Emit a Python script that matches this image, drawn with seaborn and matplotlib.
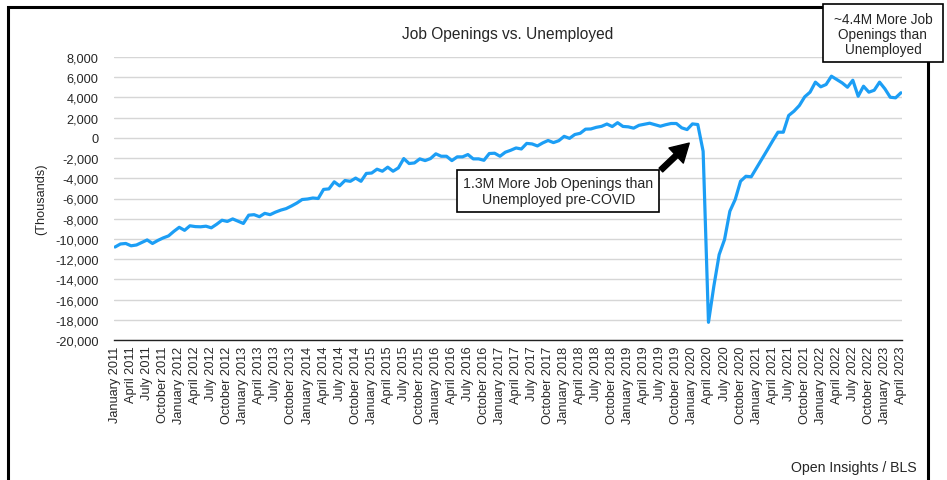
import matplotlib
matplotlib.use("Agg")
import matplotlib.pyplot as plt
from matplotlib.patches import Rectangle
from matplotlib.ticker import FuncFormatter, MultipleLocator
import seaborn as sns
import pandas as pd

# Job openings minus unemployed persons, monthly, thousands (Jan 2011 - Apr 2023)
gap_2011 = [-10800, -10500, -10450, -10680, -10600, -10350, -10100, -10450, -10150, -9900, -9700, -9250]
gap_2012 = [-8850, -9150, -8700, -8780, -8800, -8740, -8900, -8550, -8150, -8270, -8020, -8250]
gap_2013 = [-8470, -7650, -7600, -7800, -7470, -7600, -7350, -7150, -7000, -6740, -6450, -6100]
gap_2014 = [-6050, -5950, -6000, -5100, -5050, -4350, -4750, -4220, -4300, -3980, -4300, -3520]
gap_2015 = [-3480, -3100, -3300, -2900, -3300, -2970, -2050, -2540, -2480, -2080, -2250, -2050]
gap_2016 = [-1580, -1820, -1820, -2250, -1880, -1880, -1650, -2080, -2080, -2220, -1550, -1520]
gap_2017 = [-1820, -1420, -1230, -1000, -1100, -550, -600, -800, -500, -260, -470, -280]
gap_2018 = [150, -50, 330, 450, 860, 880, 1040, 1140, 1370, 1120, 1500, 1130]
gap_2019 = [1090, 960, 1240, 1350, 1450, 1300, 1150, 1300, 1420, 1420, 990, 820]
gap_2020 = [1380, 1320, -1330, -18250, -14690, -11550, -10070, -7260, -6100, -4290, -3800, -3850]
gap_2021 = [-2970, -2100, -1200, -300, 560, 560, 2210, 2640, 3200, 4060, 4520, 5510]
gap_2022 = [5050, 5280, 6100, 5770, 5440, 5010, 5700, 4120, 5110, 4520, 4710, 5510]
gap_2023 = [4850, 4020, 3960, 4460]

gap = (gap_2011 + gap_2012 + gap_2013 + gap_2014 + gap_2015 + gap_2016 + gap_2017
       + gap_2018 + gap_2019 + gap_2020 + gap_2021 + gap_2022 + gap_2023)

month_names = ["January", "February", "March", "April", "May", "June", "July",
               "August", "September", "October", "November", "December"]
years = list(range(2011, 2024))
month_labels = [f"{m} {y}" for y in years for m in month_names][:len(gap)]

df = pd.DataFrame({"pos": range(len(gap)), "month": month_labels, "gap": gap})

title_text = "Job Openings vs. Unemployed"
ylabel_text = "(Thousands)"
source_text = "Open Insights / BLS"
note_precovid = "1.3M More Job Openings than\nUnemployed pre-COVID"
note_latest = "~4.4M More Job\nOpenings than\nUnemployed"

sns.set_style("white")
plt.rcParams["font.family"] = ["Liberation Sans", "DejaVu Sans"]

W, H = 947, 481
fig = plt.figure(figsize=(W / 100, H / 100), dpi=100)
ax = fig.add_axes([114 / W, 1 - 341 / H, (902 - 114) / W, (341 - 58) / H])

sns.lineplot(data=df, x="pos", y="gap", ax=ax, color="#1C9EF5", linewidth=2.3)

ax.set_xlim(-0.2, len(gap) - 1 + 0.2)
ax.set_ylim(-20000, 8000)
ax.yaxis.set_major_locator(MultipleLocator(2000))
ax.yaxis.set_major_formatter(FuncFormatter(lambda v, p: f"{int(round(v)):,}"))

tick_pos = list(range(0, len(gap), 3))
ax.set_xticks(tick_pos)
ax.set_xticklabels([month_labels[i] for i in tick_pos], rotation=90, fontsize=9.2)

ax.yaxis.grid(True, color="#d6d6d6", linewidth=1.0)
ax.xaxis.grid(False)
ax.set_axisbelow(True)
for side in ["left", "top", "right"]:
    ax.spines[side].set_visible(False)
ax.spines["bottom"].set_color("#222222")
ax.spines["bottom"].set_linewidth(1.0)
ax.tick_params(axis="y", length=0, pad=11, labelsize=9.2)
ax.tick_params(axis="x", length=0, pad=4)

ax.set_xlabel("")
ax.set_ylabel(ylabel_text, fontsize=9.2, labelpad=6)
ax.set_title(title_text, fontsize=11.2, pad=14)

# Pre-COVID callout with arrow
ax.text(82.9, -5250, note_precovid, ha="center", va="center", fontsize=10.2,
        linespacing=1.15,
        bbox=dict(boxstyle="square,pad=0.42", facecolor="white", edgecolor="black",
                  linewidth=1.2), zorder=5)
ax.annotate("", xy=(107.4, -520), xytext=(102.1, -3180),
            arrowprops=dict(facecolor="black", edgecolor="black", width=3.8,
                            headwidth=15, headlength=13, shrink=0.0), zorder=6)

# Outer frame around the figure
fig.add_artist(Rectangle((8 / W, -0.05), (928 - 8) / W, (1 - 8 / H) + 0.05,
                         transform=fig.transFigure, fill=False, edgecolor="black",
                         linewidth=2.2, zorder=10))

# Latest-gap callout in the top right corner
fig.add_artist(Rectangle((822.7 / W, 1 - 62.7 / H), (943 - 822.7) / W, (62.7 - 5) / H,
                         transform=fig.transFigure, facecolor="white", edgecolor="black",
                         linewidth=1.2, zorder=11))
fig.text(882.9 / W, 1 - 35 / H, note_latest, ha="center", va="center", fontsize=9.8,
         linespacing=1.1, zorder=12)

fig.text(917 / W, 1 - 468 / H, source_text, ha="right", va="center", fontsize=10.2)

fig.savefig("out.png", dpi=100)
